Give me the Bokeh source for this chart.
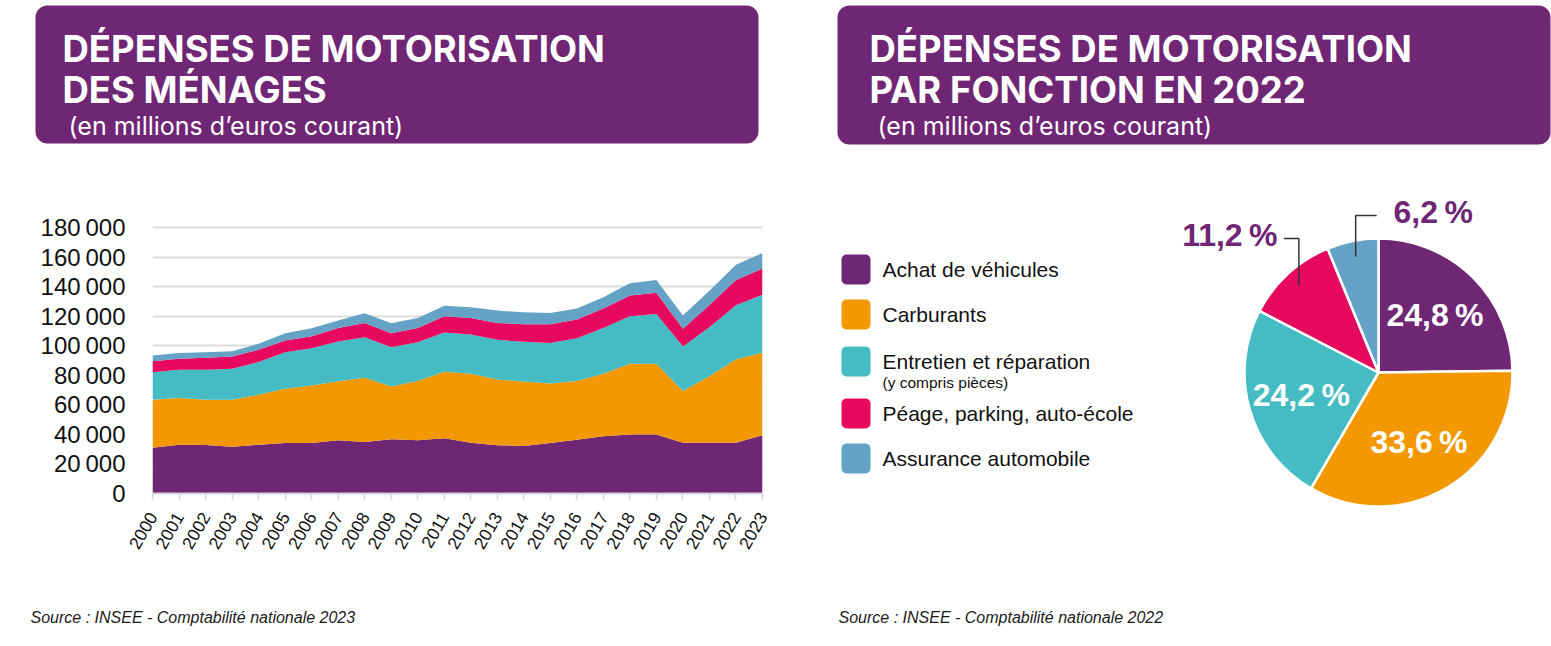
import math
from bokeh.plotting import figure
from bokeh.layouts import row, column
from bokeh.models import Range1d, ColumnDataSource, FixedTicker, CustomJSTickFormatter
from bokeh.core.properties import value
from bokeh.embed import file_html
from bokeh.resources import INLINE

# ---------------- data ----------------
years = list(range(2000, 2024))
achat = [31000, 33000, 32800, 31700, 33000, 34200, 34200, 36000, 34900, 36700, 36000, 37350,
         34400, 32600, 32200, 34200, 36450, 38700, 40000, 40000, 34400, 34400, 34400, 39400]
carburants = [32500, 31600, 30700, 31800, 33800, 36700, 38900, 40000, 43400, 35750, 40050, 45000,
              46600, 44600, 43600, 40300, 39600, 42300, 47750, 47750, 34900, 45000, 56500, 55800]
entretien = [18500, 19100, 20200, 20900, 22100, 24700, 25200, 26800, 27450, 26550, 26350, 26550,
             26550, 26750, 26800, 27400, 29050, 31000, 32150, 33750, 30150, 33100, 36450, 39350]
peage = [7500, 7400, 8100, 8300, 8300, 7900, 8100, 9200, 9650, 9450, 9650, 11000,
         11250, 11450, 11900, 12600, 12600, 13100, 14000, 14400, 11950, 15100, 17100, 17750]
assurance = [3900, 3900, 3800, 3600, 4050, 4950, 5400, 5000, 6600, 6750, 6750, 7200,
             7200, 8350, 8100, 7700, 7400, 7650, 8300, 8550, 9000, 9650, 10350, 10400]

categories = ["Achat de véhicules", "Carburants", "Entretien et réparation",
              "Péage, parking, auto-école", "Assurance automobile"]
pie_pct = [24.8, 33.6, 24.2, 11.2, 6.2]
y_ticks = [0, 20000, 40000, 60000, 80000, 100000, 120000, 140000, 160000, 180000]

PURPLE = "#6F2674"
ORANGE = "#F39800"
TEAL = "#45BBC3"
PINK = "#E6095F"
BLUE = "#64A3C5"
colors = [PURPLE, ORANGE, TEAL, PINK, BLUE]

PAGE_H = 646
TITLE_FONT = value("Inter")
ARIAL = value("Liberation Sans")


def Y(py):
    return PAGE_H - py


def canvas(w, h, x0, y0):
    f = figure(width=w, height=h, x_range=Range1d(x0, x0 + w),
               y_range=Range1d(Y(y0 + h), Y(y0)), output_backend="svg",
               toolbar_location=None, min_border=0,
               x_axis_location=None, y_axis_location=None)
    f.frame_align = False
    f.grid.visible = False
    f.outline_line_color = None
    f.background_fill_color = "white"
    f.border_fill_color = "white"
    return f


def header(f, left, right, top, bottom, line1, line2, tx, sx):
    f.quad(left=[left], right=[right], top=[Y(top)], bottom=[Y(bottom)],
           fill_color=PURPLE, line_color=None, border_radius=12)
    f.text(x=[tx, tx], y=[Y(48), Y(89)], text=[line1, line2], text_font=TITLE_FONT,
           text_font_size="36.5px", text_font_style="bold", text_color="white",
           text_baseline="alphabetic", text_align="left")
    f.text(x=[sx], y=[Y(125)], text=["(en millions d\u2019euros courant)"], text_font=TITLE_FONT,
           text_font_size="25px", text_font_style="normal", text_color="white",
           text_baseline="middle", text_align="left")


# ---------------- left column ----------------
hdrL = canvas(808, 170, 0, 0)
header(hdrL, 35, 758, 5, 143, "DÉPENSES DE MOTORISATION", "DES MÉNAGES", 62, 68)

src = ColumnDataSource(dict(year=years, achat=achat, carburants=carburants,
                            entretien=entretien, peage=peage, assurance=assurance))
p = figure(width=808, height=420, x_range=Range1d(2000, 2023), y_range=Range1d(0, 182000),
           output_backend="svg", toolbar_location=None,
           min_border_left=152, min_border_right=46, min_border_top=54, min_border_bottom=97)
p.frame_align = False
p.varea_stack(stackers=["achat", "carburants", "entretien", "peage", "assurance"], x="year",
              color=colors, source=src)
p.outline_line_color = None
p.xgrid.visible = False
p.ygrid.grid_line_color = "#dcdcdc"
p.ygrid.grid_line_width = 2
p.yaxis.ticker = FixedTicker(ticks=y_ticks)
p.yaxis.formatter = CustomJSTickFormatter(code="""
const s = Math.round(tick).toString();
return s.replace(/\\B(?=(\\d{3})+(?!\\d))/g, '\\u202f');
""")
p.yaxis.axis_line_color = None
p.yaxis.major_tick_line_color = None
p.yaxis.major_tick_out = 0
p.yaxis.major_tick_in = 0
p.yaxis.minor_tick_line_color = None
p.yaxis.major_label_standoff = 27
p.yaxis.major_label_text_font = "Liberation Sans"
p.yaxis.major_label_text_font_size = "24px"
p.yaxis.major_label_text_color = "#111111"

p.xaxis.ticker = FixedTicker(ticks=years)
p.xaxis.formatter = CustomJSTickFormatter(code="return tick.toFixed(0);")
p.xaxis.major_label_orientation = math.pi / 3
p.xaxis.axis_line_color = "#d4d4d4"
p.xaxis.axis_line_width = 2
p.xaxis.major_tick_line_color = "#d4d4d4"
p.xaxis.major_tick_line_width = 1.5
p.xaxis.major_tick_in = 0
p.xaxis.major_tick_out = 6
p.xaxis.minor_tick_line_color = None
p.xaxis.major_label_standoff = 14
p.xaxis.major_label_text_font = "Liberation Sans"
p.xaxis.major_label_text_font_size = "17.5px"
p.xaxis.major_label_text_color = "#111111"

srcL = canvas(808, 56, 0, 590)
srcL.text(x=[30], y=[Y(617)], text=["Source : INSEE - Comptabilité nationale 2023"],
          text_font=ARIAL, text_font_size="16px", text_font_style="italic",
          text_color="#1a1a1a", text_baseline="middle")

left_col = column(hdrL, p, srcL, spacing=0)

# ---------------- right panel ----------------
R = canvas(743, 646, 808, 0)
header(R, 837, 1550, 5, 144, "DÉPENSES DE MOTORISATION", "PAR FONCTION EN 2022", 869, 877)

# legend
leg_y = [269, 314, 361, 413, 458]
R.quad(left=[841] * 5, right=[870] * 5, top=[Y(v - 15) for v in leg_y],
       bottom=[Y(v + 15) for v in leg_y], fill_color=colors, line_color=None, border_radius=5)
R.text(x=[882] * 5, y=[Y(v) for v in leg_y], text=categories, text_font=ARIAL,
       text_font_size="21px", text_color="#111111", text_baseline="middle")
R.text(x=[882], y=[Y(382)], text=["(y compris pièces)"], text_font=ARIAL,
       text_font_size="15.5px", text_color="#111111", text_baseline="middle")

# pie
cx, cy, rad = 1378, Y(372), 134
total = sum(pie_pct)
starts, ends, mids = [], [], []
cum = 0.0
for v in pie_pct:
    a0 = math.pi / 2 - 2 * math.pi * cum / total
    cum += v
    a1 = math.pi / 2 - 2 * math.pi * cum / total
    starts.append(a0)
    ends.append(a1)
    mids.append((a0 + a1) / 2)
R.wedge(x=cx, y=cy, radius=rad, start_angle=starts, end_angle=ends, direction="clock",
        fill_color=colors, line_color="white", line_width=2.5)

labels = [f"{v:.1f}".replace(".", ",") + "\u202f%" for v in pie_pct]
inside = [0, 1, 2]
R.text(x=[cx + 0.6 * rad * math.cos(mids[i]) for i in inside],
       y=[cy + 0.6 * rad * math.sin(mids[i]) for i in inside],
       text=[labels[i] for i in inside], text_font=ARIAL, text_font_size="32px",
       text_font_style="bold", text_color="white", text_align="center", text_baseline="middle")

# outside labels with leader lines
for i, level, dx, lx, align in [(3, 238, -15, 1277, "right"), (4, 215, 21, 1393, "left")]:
    ex = cx + 0.88 * rad * math.cos(mids[i])
    ey = cy + 0.88 * rad * math.sin(mids[i])
    R.line(x=[ex, ex, ex + dx], y=[ey, Y(level), Y(level)], line_color="#333333", line_width=1.5)
    R.text(x=[lx], y=[Y(level - 4)], text=[labels[i]], text_font=ARIAL, text_font_size="32px",
           text_font_style="bold", text_color=PURPLE, text_align=align, text_baseline="middle")

R.text(x=[838], y=[Y(617)], text=["Source : INSEE - Comptabilité nationale 2022"],
       text_font=ARIAL, text_font_size="16px", text_font_style="italic",
       text_color="#1a1a1a", text_baseline="middle")

layout = row(left_col, R, spacing=0)
open("out.html", "w").write(file_html(layout, INLINE))
